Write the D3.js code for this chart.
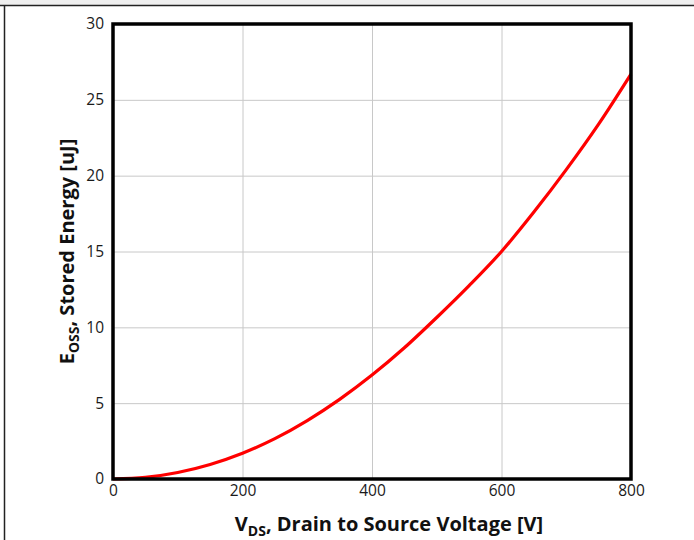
<!DOCTYPE html>
<html>
<head>
<meta charset="utf-8">
<script src="https://cdn.jsdelivr.net/npm/d3@7"></script>
<style>
  html, body { margin: 0; padding: 0; background: #fff; }
  svg { display: block; }
  text { font-family: "Open Sans", "Noto Sans", sans-serif; }
</style>
</head>
<body>
<script>
// Drain-source voltage samples [V] and stored output energy [uJ]
const vdsValues = [0, 50, 100, 150, 200, 250, 300, 350, 400, 450, 500, 550, 600, 650, 700, 750, 800];
const eossValues = [0, 0.11, 0.43, 0.96, 1.70, 2.66, 3.85, 5.25, 6.85, 8.65, 10.65, 12.75, 15.0, 17.6, 20.4, 23.4, 26.7];
const xTicks = [0, 200, 400, 600, 800];
const yTicks = [0, 5, 10, 15, 20, 25, 30];

const W = 694, H = 540;
const margin = { left: 113, right: 63, top: 24, bottom: 61 };

const svg = d3.select("body").append("svg").attr("width", W).attr("height", H);

// window frame: grey strip on top, dark rules along top and left
svg.append("rect").attr("x", 0).attr("y", 0).attr("width", W).attr("height", 5).attr("fill", "#efefef");
svg.append("line").attr("x1", 0).attr("x2", W).attr("y1", 5.5).attr("y2", 5.5).attr("stroke", "#222").attr("stroke-width", 1.5);
svg.append("line").attr("x1", 4.5).attr("x2", 4.5).attr("y1", 5).attr("y2", H).attr("stroke", "#222").attr("stroke-width", 1.5);

const x = d3.scaleLinear().domain([0, 800]).range([margin.left, W - margin.right]);
const y = d3.scaleLinear().domain([0, 30]).range([H - margin.bottom, margin.top]);

// grid
svg.append("g").selectAll("line").data(xTicks).join("line")
  .attr("x1", d => x(d) + 0.5).attr("x2", d => x(d) + 0.5)
  .attr("y1", y(30)).attr("y2", y(0))
  .attr("stroke", "#c8c8c8").attr("stroke-width", 1);
svg.append("g").selectAll("line").data(yTicks).join("line")
  .attr("x1", x(0)).attr("x2", x(800))
  .attr("y1", d => y(d) + 0.5).attr("y2", d => y(d) + 0.5)
  .attr("stroke", "#c8c8c8").attr("stroke-width", 1);

// axes (labels only)
const xAxis = svg.append("g").attr("transform", `translate(0,${y(0)})`)
  .call(d3.axisBottom(x).tickValues(xTicks).tickSize(0).tickPadding(6).tickFormat(d3.format("d")));
const yAxis = svg.append("g").attr("transform", `translate(${x(0)},0)`)
  .call(d3.axisLeft(y).tickValues(yTicks).tickSize(0).tickPadding(9).tickFormat(d3.format("d")));
[xAxis, yAxis].forEach(a => {
  a.select(".domain").remove();
  a.selectAll(".tick text")
    .style("font-size", "15.5px")
    .style("font-family", "'Open Sans', 'Noto Sans', sans-serif")
    .style("fill", "#1a1a1a");
});

// curve
const line = d3.line().x((d, i) => x(vdsValues[i])).y(d => y(d)).curve(d3.curveMonotoneX);
svg.append("path").datum(eossValues).attr("d", line)
  .attr("fill", "none").attr("stroke", "#ff0000").attr("stroke-width", 3.2)
  .attr("stroke-linejoin", "round");

// plot border
svg.append("rect")
  .attr("x", x(0)).attr("y", y(30))
  .attr("width", x(800) - x(0)).attr("height", y(0) - y(30))
  .attr("fill", "none").attr("stroke", "#000").attr("stroke-width", 3.5);

// axis titles
const xt = svg.append("text").attr("x", (x(0) + x(800)) / 2 + 17).attr("y", 531)
  .attr("text-anchor", "middle").style("font-size", "20px").attr("font-weight", "bold").attr("fill", "#111");
xt.append("tspan").text("V");
xt.append("tspan").style("font-size", "14px").attr("dy", 5).text("DS");
xt.append("tspan").attr("dy", -5).text(", Drain to Source Voltage [V]");

const yt = svg.append("text")
  .attr("transform", `translate(74,${(y(0) + y(30)) / 2}) rotate(-90)`)
  .attr("text-anchor", "middle").style("font-size", "20px").attr("font-weight", "bold").attr("fill", "#111");
yt.append("tspan").text("E");
yt.append("tspan").style("font-size", "14px").attr("dy", 5).text("OSS");
yt.append("tspan").attr("dy", -5).text(", Stored Energy [uJ]");
</script>
</body>
</html>
